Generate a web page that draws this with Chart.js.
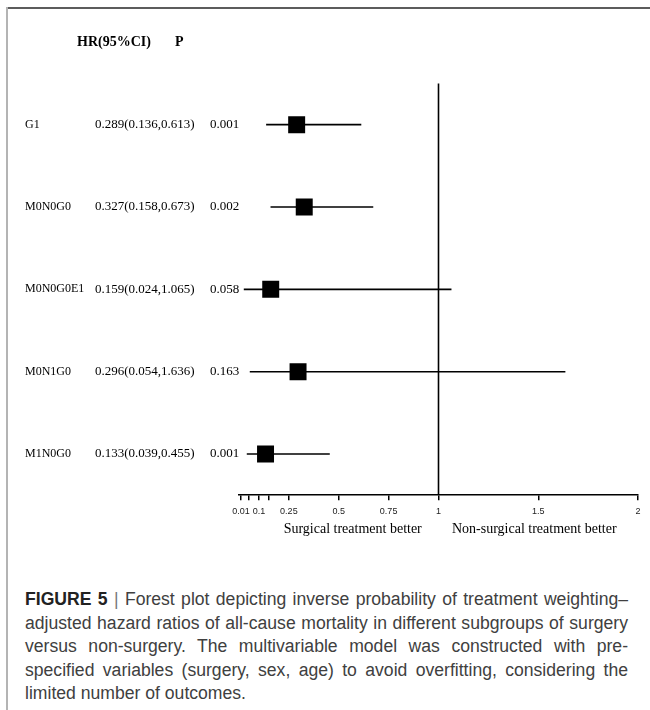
<!DOCTYPE html>
<html>
<head>
<meta charset="utf-8">
<script src="https://cdn.jsdelivr.net/npm/chart.js@4"></script>
<style>
  html, body { margin: 0; padding: 0; background: #fff; }
  body { position: relative; width: 650px; height: 710px; overflow: hidden; }
  #frameTop { position: absolute; left: 7px; top: 7px; width: 643px; height: 2px; background: #5c5c5c; }
  #frameLeft { position: absolute; left: 6px; top: 7px; width: 2px; height: 703px; background: #b4b4b4; }
  #plot { position: absolute; left: 0; top: 0; }
  #caption {
    position: absolute; left: 25px; top: 588px; width: 603px;
    font-family: "Liberation Sans", Arial, sans-serif; font-size: 17.6px;
    color: #404040; line-height: 23.6px;
  }
  #caption .ln { text-align: justify; text-align-last: justify; white-space: nowrap; }
  #caption .ln.last { text-align-last: left; }
  #caption b { color: #222; }
  #caption .bar { color: #777; }
</style>
</head>
<body>
<div id="frameTop"></div>
<div id="frameLeft"></div>
<canvas id="plot" width="650" height="560"></canvas>
<div id="caption">
  <div class="ln"><b>FIGURE 5</b> <span class="bar">|</span> Forest plot depicting inverse probability of treatment weighting–</div>
  <div class="ln">adjusted hazard ratios of all-cause mortality in different subgroups of surgery</div>
  <div class="ln">versus non-surgery. The multivariable model was constructed with pre-</div>
  <div class="ln">specified variables (surgery, sex, age) to avoid overfitting, considering the</div>
  <div class="ln last">limited number of outcomes.</div>
</div>
<script>
// Subgroups and their hazard ratios with 95% confidence limits
const subgroups = ['G1', 'M0N0G0', 'M0N0G0E1', 'M0N1G0', 'M1N0G0'];
const hazardRatio = [0.289, 0.327, 0.159, 0.296, 0.133];
const ciLower = [0.136, 0.158, 0.024, 0.054, 0.039];
const ciUpper = [0.613, 0.673, 1.065, 1.636, 0.455];
const pValues = ['0.001', '0.002', '0.058', '0.163', '0.001'];

// Horizontal axis ticks (minor ticks carry no label)
const tickValues = [0.01, 0.05, 0.1, 0.15, 0.25, 0.5, 0.75, 1, 1.5, 2];
const tickLabels = ['0.01', '', '0.1', '', '0.25', '0.5', '0.75', '1', '1.5', '2'];

const serif = '"Liberation Serif", "Times New Roman", serif';
const sans = '"Liberation Sans", Arial, sans-serif';

// Row i sits at y = i + 1; the header row sits at y = 0
const rowY = i => i + 1;

const squares = {
  type: 'scatter',
  data: hazardRatio.map((v, i) => ({ x: v, y: rowY(i) })),
  pointStyle: 'rect',
  pointRadius: 12,
  pointHoverRadius: 12,
  backgroundColor: '#000',
  borderWidth: 0
};

const ciLines = subgroups.map((g, i) => ({
  type: 'line',
  data: [{ x: ciLower[i], y: rowY(i) }, { x: ciUpper[i], y: rowY(i) }],
  borderColor: '#000',
  borderWidth: 1.6,
  pointRadius: 0,
  fill: false
}));

// Line of no effect at HR = 1
const nullLine = {
  type: 'line',
  data: [{ x: 1, y: 0.5 }, { x: 1, y: subgroups.length + 0.5 }],
  borderColor: '#000',
  borderWidth: 1.6,
  pointRadius: 0,
  fill: false
};

const textColumns = {
  id: 'textColumns',
  afterDraw(chart) {
    const { ctx, scales: { x, y } } = chart;
    ctx.save();
    ctx.fillStyle = '#000';
    ctx.textBaseline = 'middle';
    ctx.textAlign = 'left';

    ctx.font = 'bold 14px ' + serif;
    const hy = y.getPixelForValue(0);
    ctx.fillText('HR(95%CI)', 77, hy);
    ctx.fillText('P', 175, hy);

    subgroups.forEach((g, i) => {
      const py = y.getPixelForValue(rowY(i));
      ctx.font = '12px ' + serif;
      ctx.fillText(g, 25, py);
      ctx.font = '13px ' + serif;
      const txt = hazardRatio[i].toFixed(3) + '(' + ciLower[i].toFixed(3) + ',' + ciUpper[i].toFixed(3) + ')';
      ctx.fillText(txt, 95, py);
      ctx.fillText(pValues[i], 210, py);
    });

    ctx.font = '14px ' + serif;
    ctx.textAlign = 'center';
    const ny = chart.chartArea.bottom + 34;
    ctx.fillText('Surgical treatment better', x.getPixelForValue(0.57), ny);
    ctx.fillText('Non-surgical treatment better', x.getPixelForValue(1.48), ny);
    ctx.restore();
  }
};

new Chart(document.getElementById('plot'), {
  data: { datasets: [squares, ...ciLines, nullLine] },
  options: {
    responsive: false,
    animation: false,
    events: [],
    layout: { padding: { left: 239, right: 11, top: 42.3, bottom: 37 } },
    plugins: { legend: { display: false }, tooltip: { enabled: false } },
    scales: {
      x: {
        type: 'linear',
        position: 'bottom',
        min: 0,
        max: 2,
        afterBuildTicks: scale => { scale.ticks = tickValues.map(v => ({ value: v })); },
        ticks: {
          autoSkip: false,
          maxRotation: 0,
          padding: 6,
          color: '#222',
          font: { family: sans, size: 9 },
          callback: (v, idx) => tickLabels[idx]
        },
        grid: { drawOnChartArea: false, drawTicks: true, tickLength: 5, color: '#000', lineWidth: 1.5 },
        border: { display: true, color: '#000', width: 1.5 }
      },
      y: {
        type: 'linear',
        min: 0,
        max: subgroups.length + 0.5,
        reverse: true,
        display: false
      }
    }
  },
  plugins: [textColumns]
});
</script>
</body>
</html>
